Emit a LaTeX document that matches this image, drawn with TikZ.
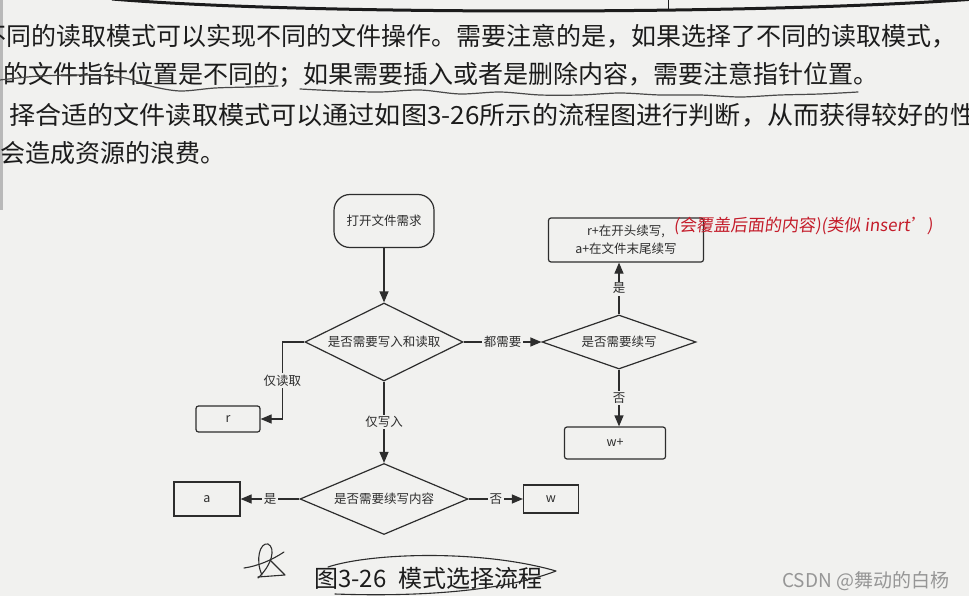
\documentclass[tikz,border=0pt]{standalone}
\usepackage{fontspec}
\usepackage{graphicx}
\setmainfont{Noto Sans CJK SC}
\usetikzlibrary{shapes.geometric,arrows.meta}
\definecolor{bg}{RGB}{241,241,239}
\definecolor{ink}{RGB}{28,28,28}
\definecolor{fl}{RGB}{45,45,45}
\definecolor{pen}{RGB}{196,28,42}
\definecolor{wm}{RGB}{150,150,150}
\begin{document}
\begin{tikzpicture}[x=1pt,y=-1pt,
  body/.style={anchor=west,inner sep=0pt,text=ink,font=\fontsize{25}{30}\selectfont},
  ftext/.style={font=\fontsize{12.5}{15}\selectfont,text=fl},
  proc/.style={ftext,draw=fl,line width=1.2pt,rounded corners=2.5pt,inner sep=0pt},
  procsq/.style={ftext,draw=fl,line width=1.2pt,inner sep=0pt},
  dec/.style={ftext,draw=fl,line width=1.2pt,diamond,inner sep=0pt},
  arr/.style={draw=fl,line width=1.2pt,-{Triangle[length=11pt,width=9pt]}},
  lbl/.style={ftext,fill=bg,inner sep=1.5pt},
  scrib/.style={draw=fl,line width=1.1pt,line cap=round,line join=round},
  pencil/.style={draw=ink!80,line width=1.2pt,line cap=round}]
\useasboundingbox (0,0) rectangle (969,596);
\fill[bg] (0,0) rectangle (969,596);
\fill[gray!55] (0,0) rectangle (2.5,210);
% page edge above
\draw[line width=3pt,draw=ink] (112,-1) .. controls (300,15) and (760,15) .. (975,-1);
\draw[line width=1pt,draw=ink] (668,0) -- (668,11);

% body text
\node[body] (l1) at (-19,36) {不同的读取模式可以实现不同的文件操作。需要注意的是，如果选择了不同的读取模式，};
\node[body] (l2) at (3,75) {的文件指针位置是不同的；如果需要插入或者是删除内容，需要注意指针位置。};
\node[body] (l3) at (9,115) {\scalebox{1.045}[1]{择合适的文件读取模式可以通过如图3-26所示的流程图进行判断，从而获得较好的性}};
\node[body] (l4) at (0,153) {会造成资源的浪费。};

% pen marks under line 2
\draw[pencil] plot[smooth] coordinates {(0,80) (40,76) (90,75) (125,78) (150,86) (180,91) (215,88) (250,87) (278,86)};
\draw[pencil] plot[smooth] coordinates {(300,89) (340,91) (380,92) (420,90) (460,94) (500,92) (540,95) (580,95) (620,93) (660,95) (700,95) (740,97) (780,95) (820,94) (858,92)};

% flowchart nodes
\node[proc,rounded corners=16pt,minimum width=100pt,minimum height=53pt] (start) at (384,221) {打开文件需求};
\node[dec,aspect=2.03,minimum width=158pt,minimum height=78pt] (d1) at (384,342) {是否需要写入和读取};
\node[dec,aspect=2.85,minimum width=154pt,minimum height=54pt] (d3) at (619,342) {是否需要续写};
\node[dec,aspect=2.37,minimum width=168pt,minimum height=71pt] (d2) at (384,499) {是否需要续写内容};
\node[proc,minimum width=64pt,minimum height=26pt] (r) at (228,419) {r};
\node[procsq,minimum width=66pt,minimum height=34pt] (a) at (207,499) {a};
\node[procsq,minimum width=55pt,minimum height=28pt] (w) at (551,499) {w};
\node[proc,minimum width=101pt,minimum height=32pt] (wp) at (615,443) {w+};
\node[proc,minimum width=155pt,minimum height=44pt,align=center,font=\fontsize{12.5}{18}\selectfont] (rp) at (626,240) {r+在开头续写,\\a+在文件末尾续写};

% connectors
\draw[arr] (start.south) -- (d1.north);
\draw[arr] (d1.west) -- ++(-22,0) |- node[lbl,pos=0.25]{仅读取} (r.east);
\draw[arr] (d1.south) -- node[lbl]{仅写入} (d2.north);
\draw[arr] (d1.east) -- node[lbl]{都需要} (d3.west);
\draw[arr] (d3.north) -- node[lbl]{是} (d3.north |- rp.south);
\draw[arr] (d3.south) -- node[lbl]{否} (d3.south |- wp.north);
\draw[arr] (d2.west) -- node[lbl]{是} (a.east);
\draw[arr] (d2.east) -- node[lbl]{否} (w.west);

% handwritten note
\node[anchor=west,inner sep=0pt,text=pen,font=\fontsize{17}{20}\selectfont,xslant=0.12] (note) at (674,226) {(会覆盖后面的内容)(类似 insert\char39)};

% caption and scribbles
\node[anchor=west,inner sep=0pt,text=ink,font=\fontsize{24}{28}\selectfont] (cap) at (314,578) {图3-26\hspace{12pt}模式选择流程};
\draw[scrib] (328,567) .. controls (370,553) and (480,549) .. (556,571) .. controls (520,585) and (450,598) .. (335,594);
\draw[scrib] (262,575) .. controls (255,560) and (260,542) .. (268,544) .. controls (276,548) and (272,565) .. (258,578);
\draw[scrib] (244,568) .. controls (258,566) and (272,560) .. (284,552);
\draw[scrib] (270,560) -- (285,575) -- (258,577);

% watermark
\node[anchor=west,inner sep=0pt,text=wm,font=\fontsize{19}{20}\selectfont] (wmk) at (782,581) {CSDN @舞动的白杨};
\end{tikzpicture}
\end{document}
